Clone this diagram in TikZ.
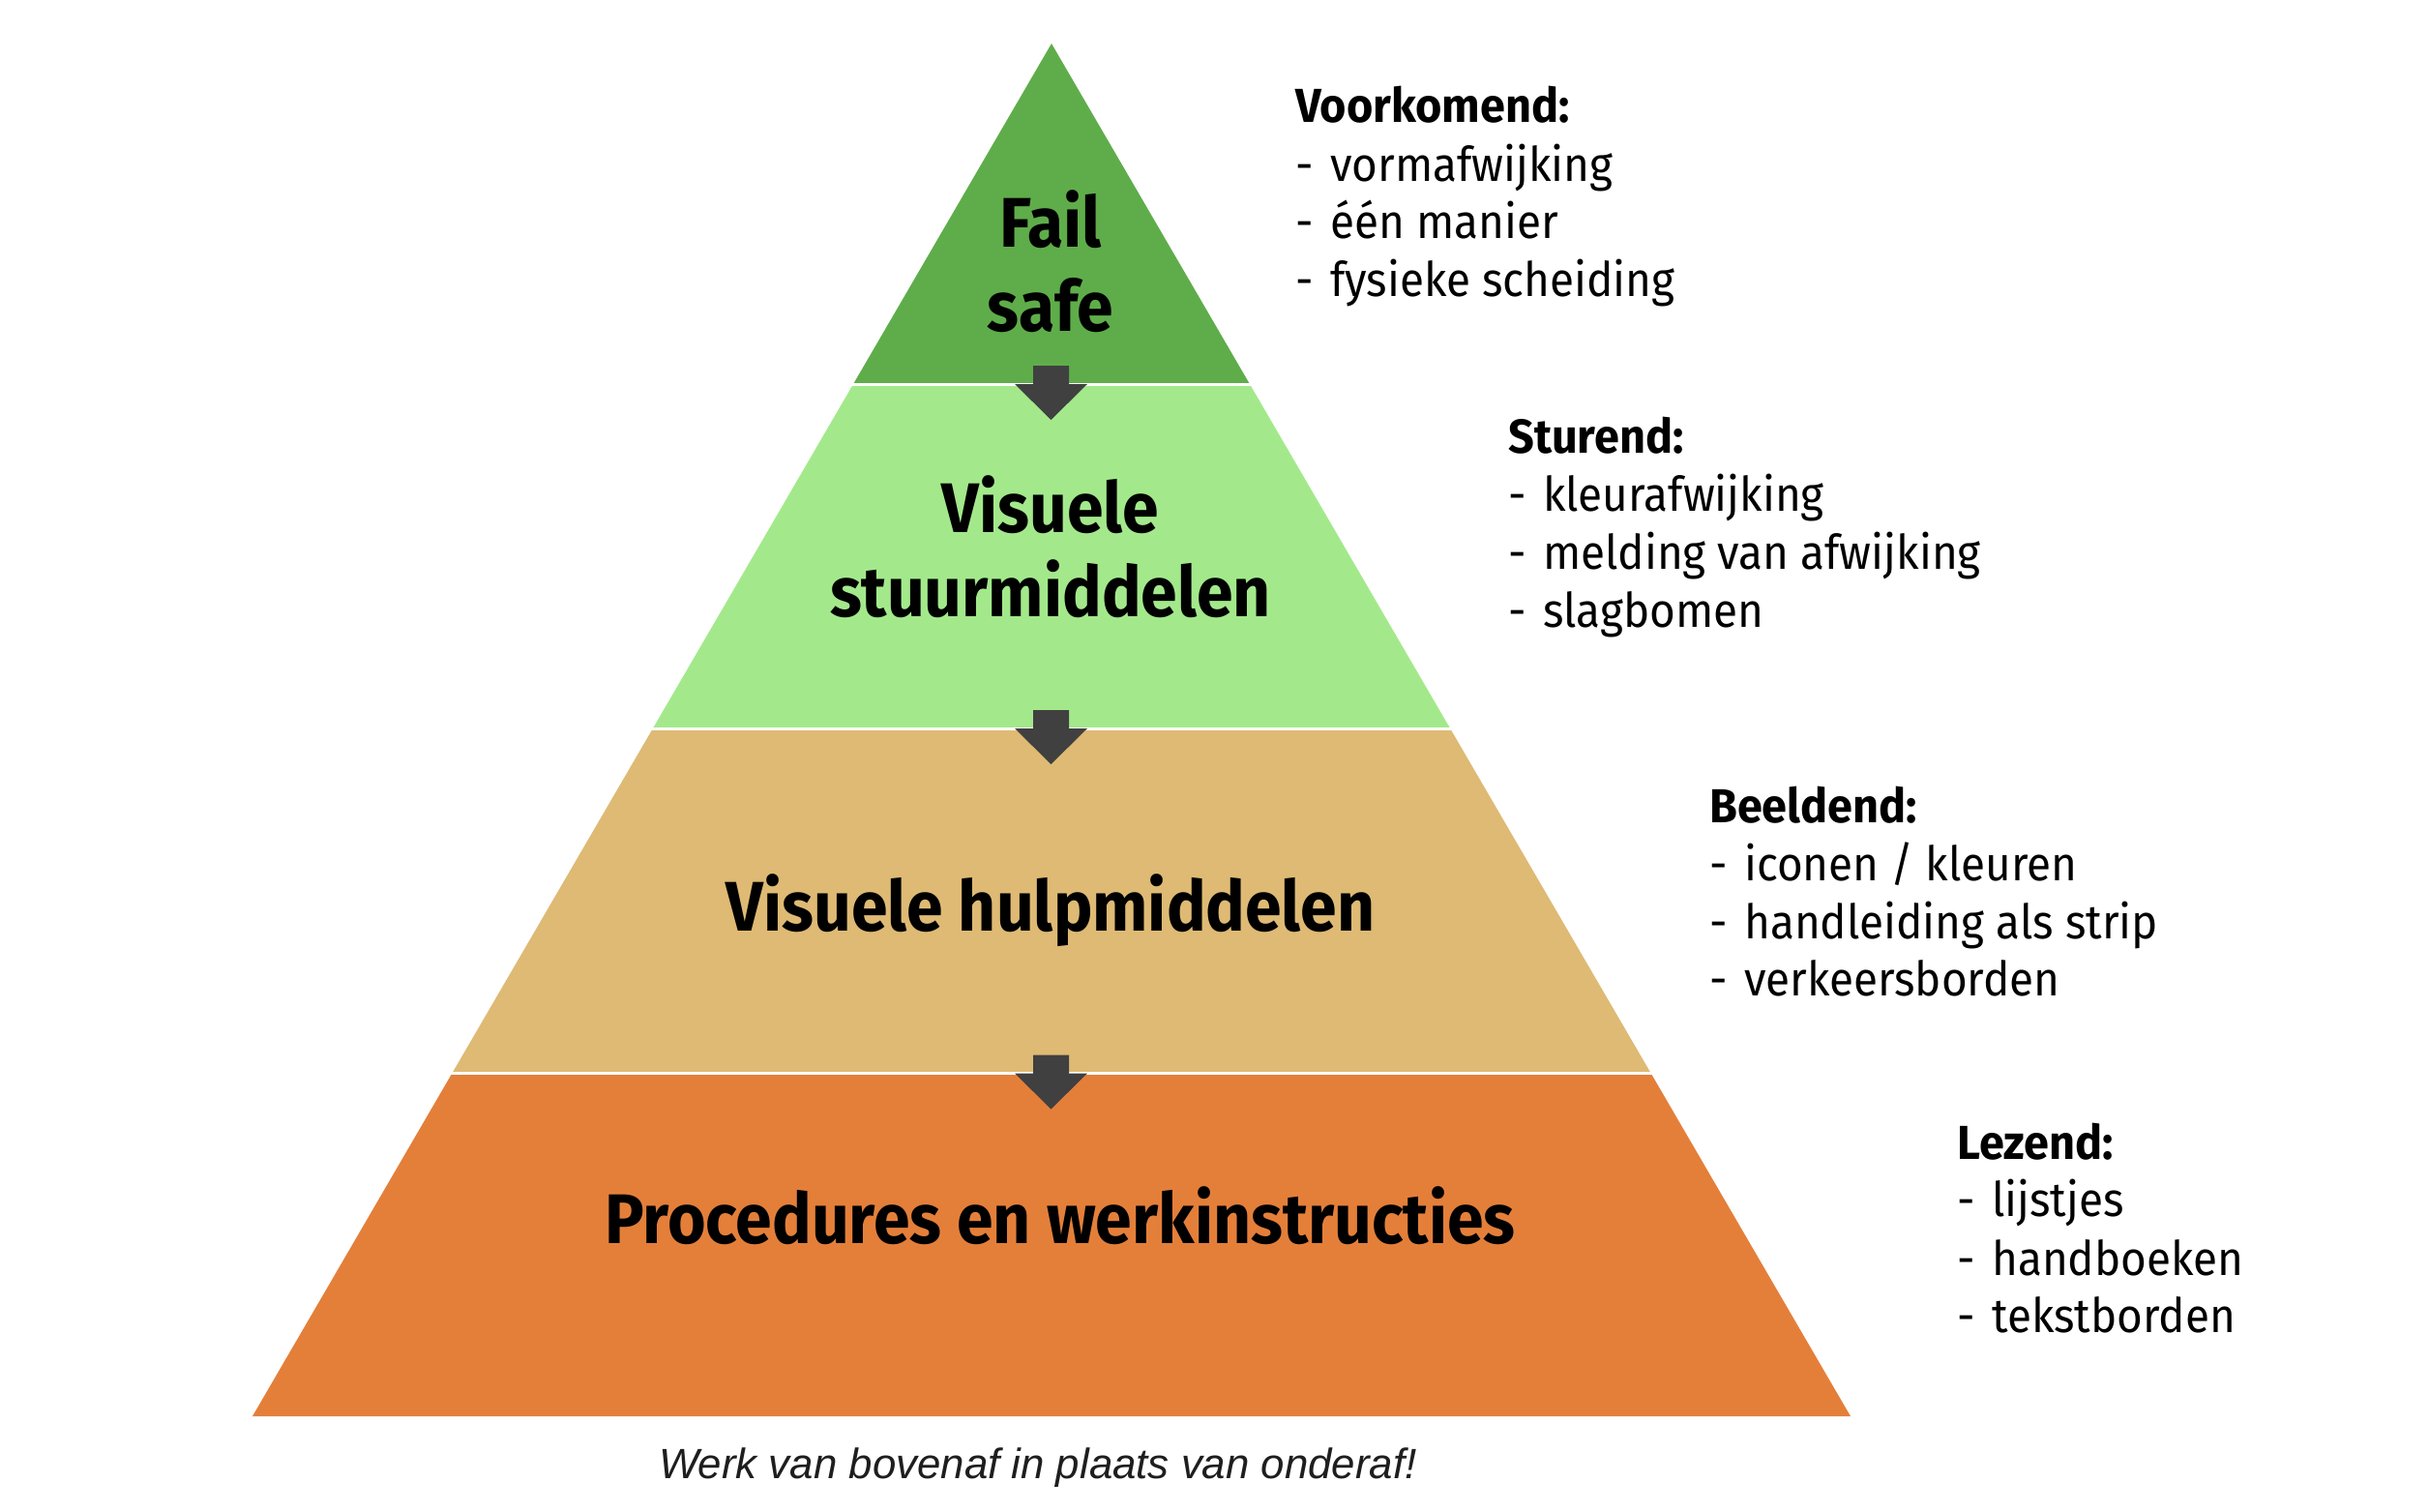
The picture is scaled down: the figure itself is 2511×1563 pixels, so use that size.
\documentclass[tikz,border=0pt]{standalone}
\usepackage{fontspec}
\setmainfont{Fira Sans}
\newfontfamily\boldfam[FakeStretch=0.935]{Fira Sans}
\newfontfamily\headfam[FakeStretch=0.95]{Fira Sans}
\newfontfamily\regfam[FakeStretch=0.93]{Fira Sans}
\newfontfamily\capfont{Liberation Sans}
\definecolor{gdark}{RGB}{95,173,74}
\definecolor{glight}{RGB}{163,233,139}
\definecolor{tanband}{RGB}{222,186,116}
\definecolor{orng}{RGB}{228,127,58}
\definecolor{arrowgray}{RGB}{64,64,64}
\definecolor{capgray}{RGB}{30,30,30}
\tikzset{
  mainlbl/.style={inner sep=0pt, anchor=base, font=\boldfam\bfseries\fontsize{72.6}{87}\selectfont},
  headlbl/.style={inner sep=0pt, anchor=base west, font=\headfam\bfseries\fontsize{49.3}{60}\selectfont},
  itemlbl/.style={inner sep=0pt, anchor=base west, font=\regfam\fontsize{49.3}{60}\selectfont},
  caplbl/.style={inner sep=0pt, anchor=base, font=\capfont\itshape\fontsize{43.8}{50}\selectfont, text=capgray},
  sepline/.style={draw=white, line width=3pt},
  downarrow/.style={fill=arrowgray}
}
\newcommand{\dash}{\makebox[36pt][l]{-}}
\begin{document}
\begin{tikzpicture}[x=1pt,y=-1pt]
\useasboundingbox (0,0) rectangle (2511,1563);
\fill[white] (0,0) rectangle (2511,1563);
% bands
\fill[gdark] (1087,45) -- (1291.9,397) -- (882.1,397) -- cycle;
\fill[glight] (882.1,397) -- (1291.9,397) -- (1499.1,753) -- (674.9,753) -- cycle;
\fill[tanband] (674.9,753) -- (1499.1,753) -- (1706.4,1109) -- (467.6,1109) -- cycle;
\fill[orng] (467.6,1109) -- (1706.4,1109) -- (1913,1464) -- (261,1464) -- cycle;
% separators
\draw[sepline] (880,397) -- (1294,397);
\draw[sepline] (672,753) -- (1502,753);
\draw[sepline] (465,1109) -- (1709,1109);
% arrows
\foreach \yb in {397,753,1109.5}{
  \fill[downarrow] (1068,\yb-19) -- (1105,\yb-19) -- (1105,\yb) -- (1124,\yb)
    -- (1086.5,\yb+37) -- (1049,\yb) -- (1068,\yb) -- cycle;
}
% main labels
\node[mainlbl] (fail) at (1086,255) {Fail};
\node[mainlbl] (safe) at (1086,342) {safe};
\node[mainlbl] (vis1) at (1086,550) {Visuele};
\node[mainlbl] (vis2) at (1086,637) {stuurmiddelen};
\node[mainlbl] (hulp) at (1086,962) {Visuele hulpmiddelen};
\node[mainlbl] (proc) at (1096,1285) {Procedures en werkinstructies};
% side lists
\node[headlbl] (vk) at (1339,126) {Voorkomend:};
\node[itemlbl] (vk1) at (1339,187) {\dash vormafwijking};
\node[itemlbl] (vk2) at (1339,246) {\dash één manier};
\node[itemlbl] (vk3) at (1339,306) {\dash fysieke scheiding};
\node[headlbl] (st) at (1559,468) {Sturend:};
\node[itemlbl] (st1) at (1559,528) {\dash kleurafwijking};
\node[itemlbl] (st2) at (1559,588) {\dash melding van afwijking};
\node[itemlbl] (st3) at (1559,648) {\dash slagbomen};
\node[headlbl] (bd) at (1767,850) {Beeldend:};
\node[itemlbl] (bd1) at (1767,910) {\dash iconen / kleuren};
\node[itemlbl] (bd2) at (1767,970) {\dash handleiding als strip};
\node[itemlbl] (bd3) at (1767,1029) {\dash verkeersborden};
\node[headlbl] (lz) at (2023,1198) {Lezend:};
\node[itemlbl] (lz1) at (2023,1257) {\dash lijstjes};
\node[itemlbl] (lz2) at (2023,1318) {\dash handboeken};
\node[itemlbl] (lz3) at (2023,1377) {\dash tekstborden};
% caption
\node[caplbl] (cap) at (1073,1528) {Werk van bovenaf in plaats van onderaf!};
\end{tikzpicture}
\end{document}
